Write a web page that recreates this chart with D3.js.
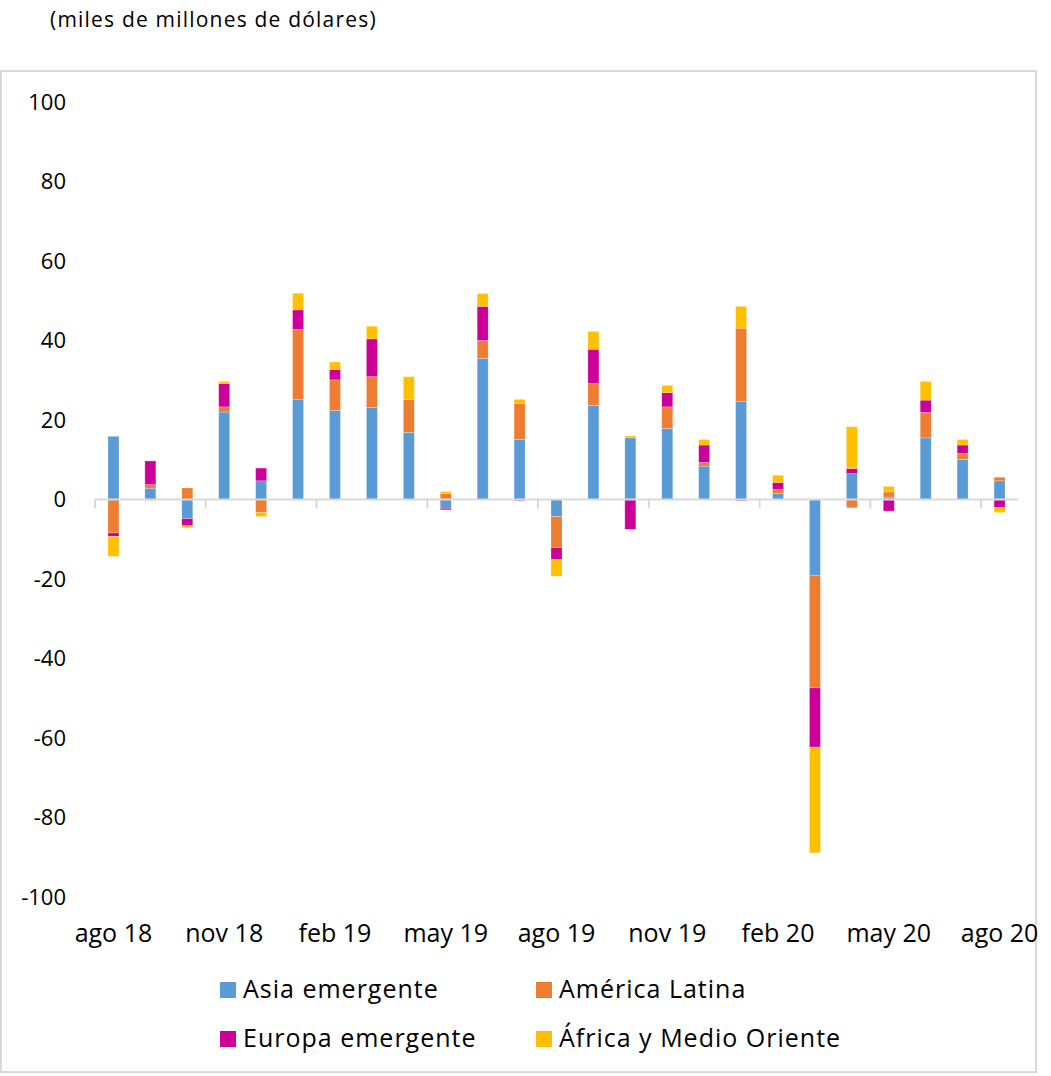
<!DOCTYPE html>
<html>
<head>
<meta charset="utf-8">
<script src="https://cdn.jsdelivr.net/npm/d3@7"></script>
<style>
  html, body { margin: 0; padding: 0; background: #fff; }
  svg { display: block; }
  text { font-family: "Open Sans", Lato, sans-serif; fill: #000; }
</style>
</head>
<body>
<svg id="chart" width="1051" height="1076"></svg>
<script>
const months = ["ago 18","sep 18","oct 18","nov 18","dic 18","ene 19","feb 19","mar 19","abr 19","may 19","jun 19","jul 19",
  "ago 19","sep 19","oct 19","nov 19","dic 19","ene 20","feb 20","mar 20","abr 20","may 20","jun 20","jul 20","ago 20"];
const seriesNames = ["Asia emergente","América Latina","Europa emergente","África y Medio Oriente"];
const colors = ["#5B9BD5","#ED7D31","#CC0099","#FFC000"];
const asia    = [15.9, 2.85,-4.8,22.0, 4.7,25.1,22.4,23.2,16.9,-2.2,35.5,15.1,-4.3,23.7,15.5,17.9, 8.4,24.6, 1.5,-19.2, 6.5, 0.6,15.5,10.1, 4.7];
const latam   = [-8.4, 0.9, 2.9, 1.3,-3.3,17.7, 7.7, 7.7, 8.2, 1.5, 4.5, 9.1,-7.8, 5.5, 0.0, 5.4, 0.9,18.5, 1.0,-28.2,-2.1, 1.3, 6.4, 1.5, 0.9];
const europa  = [-0.9, 5.95,-1.8, 5.9, 3.2, 4.9, 2.6, 9.5, 0.0,-0.4, 8.6,-0.3,-3.0, 8.6,-7.5, 3.6, 4.4,-0.3, 1.8,-14.9, 1.3,-2.9, 3.1, 2.1,-2.0];
const africa  = [-5.0,-0.3,-0.5, 0.5,-1.0, 4.2, 1.9, 3.2, 5.8, 0.5, 3.2, 1.0,-4.2, 4.5, 0.5, 1.8, 1.4, 5.5, 1.8,-26.6,10.5, 1.4, 4.7, 1.4,-1.3];
const yTicks = [100, 80, 60, 40, 20, 0, -20, -40, -60, -80, -100];
const xLabelEvery = 3;
const title = "(miles de millones de dólares)";

const table = months.map((m, i) => ({
  month: m,
  [seriesNames[0]]: asia[i],
  [seriesNames[1]]: latam[i],
  [seriesNames[2]]: europa[i],
  [seriesNames[3]]: africa[i]
}));

const svg = d3.select("#chart");

// outer frame
svg.append("rect")
  .attr("x", 1).attr("y", 71).attr("width", 1035).attr("height", 1001)
  .attr("fill", "none").attr("stroke", "#d9d9d9").attr("stroke-width", 2);

svg.append("text")
  .attr("x", 50).attr("y", 27)
  .style("font-size", "21px")
  .style("letter-spacing", "1.2px")
  .text(title);

const x = d3.scaleBand().domain(months).range([95, 1018]).padding(0);
const y = d3.scaleLinear().domain([-100, 100]).range([897, 102]);
const barW = 11;

const stack = d3.stack().keys(seriesNames).offset(d3.stackOffsetDiverging);
const stacked = stack(table);

const g = svg.append("g");
g.selectAll("g.series")
  .data(stacked)
  .join("g")
  .attr("class", "series")
  .attr("fill", (d, i) => colors[i])
  .selectAll("rect")
  .data(d => d)
  .join("rect")
  .attr("x", d => x(d.data.month) + (x.bandwidth() - barW) / 2)
  .attr("y", d => y(Math.max(d[0], d[1])))
  .attr("width", barW)
  .attr("height", d => Math.abs(y(d[0]) - y(d[1])))
  .attr("stroke", "#ffffff")
  .attr("stroke-opacity", 0.4)
  .attr("stroke-width", 0.6);

// x axis line at zero
svg.append("line")
  .attr("x1", x.range()[0]).attr("x2", x.range()[1])
  .attr("y1", y(0)).attr("y2", y(0))
  .attr("stroke", "#d9d9d9").attr("stroke-width", 2);

// tick marks at category boundaries, every 3
const tickIdx = months.map((m, i) => i).filter(i => i % xLabelEvery === 0);
svg.selectAll("line.xtick")
  .data(tickIdx)
  .join("line")
  .attr("class", "xtick")
  .attr("x1", i => x(months[i])).attr("x2", i => x(months[i]))
  .attr("y1", y(0)).attr("y2", y(0) + 9)
  .attr("stroke", "#d9d9d9").attr("stroke-width", 2);

// x labels
svg.selectAll("text.xlab")
  .data(tickIdx)
  .join("text")
  .attr("class", "xlab")
  .attr("x", i => x(months[i]) + x.bandwidth() / 2)
  .attr("y", 942)
  .attr("text-anchor", "middle")
  .style("font-size", "25px")
  .text(i => months[i]);

// y labels
svg.selectAll("text.ylab")
  .data(yTicks)
  .join("text")
  .attr("class", "ylab")
  .attr("x", 66)
  .attr("y", d => y(d))
  .attr("dy", "0.35em")
  .attr("text-anchor", "end")
  .style("font-size", "22px")
  .text(d => d);

// legend
const legPos = [[220, 982], [536, 982], [220, 1031], [536, 1031]];
const leg = svg.selectAll("g.leg")
  .data(seriesNames)
  .join("g")
  .attr("class", "leg")
  .attr("transform", (d, i) => `translate(${legPos[i][0]},${legPos[i][1]})`);
leg.append("rect").attr("width", 16).attr("height", 16).attr("fill", (d, i) => colors[i]);
leg.append("text").attr("x", 23).attr("y", 16)
  .style("font-size", "25px")
  .style("letter-spacing", "1px")
  .text(d => d);
</script>
</body>
</html>
